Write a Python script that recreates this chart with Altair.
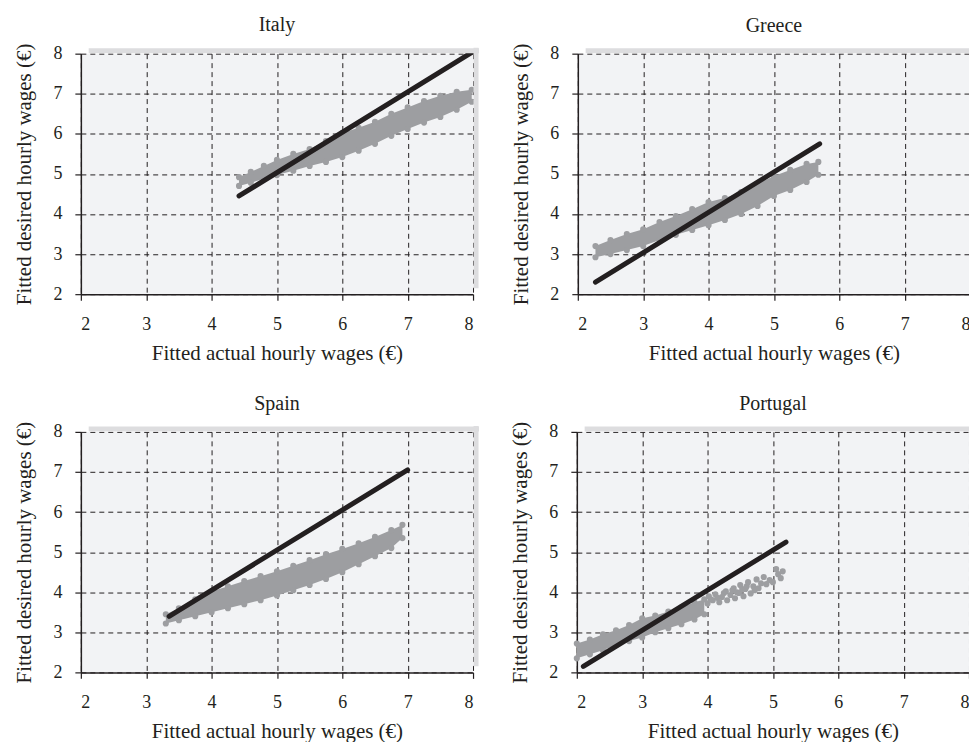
import altair as alt
import pandas as pd

countries = ["Italy", "Greece", "Spain", "Portugal"]

# Band of fitted points (x, lower edge, upper edge)
italy_x = [4.42, 4.6, 4.8, 5.0, 5.25, 5.5, 5.75, 6.0, 6.25, 6.5, 6.75, 7.0, 7.25, 7.5, 7.75, 7.98]
italy_lo = [4.70, 4.78, 4.88, 4.97, 5.08, 5.20, 5.30, 5.42, 5.58, 5.75, 5.95, 6.12, 6.28, 6.42, 6.60, 6.80]
italy_hi = [4.92, 5.05, 5.20, 5.35, 5.50, 5.62, 5.82, 6.02, 6.15, 6.30, 6.50, 6.66, 6.82, 6.95, 7.05, 7.10]

greece_x = [2.27, 2.5, 2.75, 3.0, 3.25, 3.5, 3.75, 4.0, 4.25, 4.5, 4.75, 5.0, 5.25, 5.5, 5.68]
greece_lo = [2.92, 3.00, 3.10, 3.20, 3.35, 3.48, 3.60, 3.72, 3.85, 4.00, 4.20, 4.45, 4.60, 4.80, 4.98]
greece_hi = [3.20, 3.35, 3.50, 3.62, 3.80, 3.95, 4.12, 4.30, 4.40, 4.55, 4.75, 4.95, 5.10, 5.25, 5.30]

spain_x = [3.3, 3.5, 3.75, 4.0, 4.25, 4.5, 4.75, 5.0, 5.25, 5.5, 5.75, 6.0, 6.25, 6.5, 6.75, 6.92]
spain_lo = [3.22, 3.30, 3.40, 3.50, 3.60, 3.70, 3.80, 3.92, 4.05, 4.18, 4.33, 4.50, 4.70, 4.90, 5.10, 5.35]
spain_hi = [3.45, 3.60, 3.82, 4.02, 4.15, 4.28, 4.40, 4.52, 4.66, 4.80, 4.95, 5.08, 5.22, 5.38, 5.55, 5.68]

portugal_x = [2.0, 2.2, 2.4, 2.6, 2.8, 3.0, 3.2, 3.4, 3.6, 3.8, 3.95]
portugal_lo = [2.35, 2.45, 2.55, 2.68, 2.78, 2.87, 3.00, 3.10, 3.20, 3.32, 3.45]
portugal_hi = [2.72, 2.82, 2.95, 3.05, 3.18, 3.35, 3.42, 3.52, 3.62, 3.75, 3.82]

# Sparse tail of Portugal's points
portugal_tail_x = [4.0, 4.02, 4.05, 4.08, 4.12, 4.15, 4.18, 4.22, 4.25, 4.28, 4.3, 4.35, 4.38, 4.4, 4.42,
                   4.45, 4.48, 4.5, 4.53, 4.55, 4.58, 4.6, 4.62, 4.66, 4.7, 4.72, 4.75, 4.78, 4.82, 4.86,
                   4.9, 4.95, 5.0, 5.05, 5.08, 5.12, 5.15]
portugal_tail_y = [3.72, 3.9, 3.82, 3.8, 3.95, 3.86, 3.75, 3.88, 3.98, 4.02, 3.8, 3.93, 4.05, 4.1, 3.85,
                   4.0, 3.98, 4.18, 4.08, 3.9, 4.08, 4.15, 4.25, 3.97, 4.15, 4.05, 4.32, 4.1, 4.22, 4.38,
                   4.2, 4.3, 4.25, 4.58, 4.45, 4.35, 4.52]

# 45-degree line endpoints
line_x = {"Italy": [4.42, 8.0], "Greece": [2.27, 5.7], "Spain": [3.35, 7.0], "Portugal": [2.1, 5.2]}
line_y = {"Italy": [4.45, 8.05], "Greece": [2.3, 5.75], "Spain": [3.4, 7.05], "Portugal": [2.15, 5.25]}

bands = {
    "Italy": (italy_x, italy_lo, italy_hi),
    "Greece": (greece_x, greece_lo, greece_hi),
    "Spain": (spain_x, spain_lo, spain_hi),
    "Portugal": (portugal_x, portugal_lo, portugal_hi),
}

ticks = [2, 3, 4, 5, 6, 7, 8]
GRAY = "#9d9ea1"
SHADOW = "#dddddf"
FONT = "Liberation Serif"

xscale = alt.Scale(domain=[2, 8], nice=False, zero=False)
yscale = alt.Scale(domain=[2, 8], nice=False, zero=False)
one = pd.DataFrame({"k": [0]})


def panel(name):
    bx, blo, bhi = bands[name]
    band_df = pd.DataFrame({"x": bx, "lo": blo, "hi": bhi})
    pts_x = list(bx) + list(bx)
    pts_y = list(blo) + list(bhi)
    if name == "Portugal":
        pts_x += portugal_tail_x
        pts_y += portugal_tail_y
    pts_df = pd.DataFrame({"x": pts_x, "y": pts_y})
    line_df = pd.DataFrame({"x": line_x[name], "y": line_y[name]})

    xax = alt.Axis(values=ticks, title="Fitted actual hourly wages (€)", format="d")
    yax = alt.Axis(values=ticks, title="Fitted desired hourly wages (€)", format="d")

    area = alt.Chart(band_df).mark_area(color=GRAY, opacity=1).encode(
        x=alt.X("x:Q", scale=xscale, axis=xax),
        y=alt.Y("lo:Q", scale=yscale, axis=yax),
        y2="hi:Q",
    )
    pts = alt.Chart(pts_df).mark_circle(color=GRAY, opacity=1, size=38).encode(
        x=alt.X("x:Q", scale=xscale, axis=xax),
        y=alt.Y("y:Q", scale=yscale, axis=yax),
    )
    line = alt.Chart(line_df).mark_line(color="#231f20", strokeWidth=5, strokeCap="round").encode(
        x=alt.X("x:Q", scale=xscale, axis=xax),
        y=alt.Y("y:Q", scale=yscale, axis=yax),
    )
    shadow_top = alt.Chart(one).mark_rule(color=SHADOW, strokeWidth=5, yOffset=-3, x2Offset=6).encode(
        x=alt.X(datum=2.12, type="quantitative", scale=xscale, axis=xax),
        x2=alt.X2(datum=8),
        y=alt.Y(datum=8, type="quantitative", scale=yscale, axis=yax),
    )
    shadow_right = alt.Chart(one).mark_rule(color=SHADOW, strokeWidth=5, xOffset=3, y2Offset=-6).encode(
        y=alt.Y(datum=2.15, type="quantitative", scale=yscale, axis=yax),
        y2=alt.Y2(datum=8),
        x=alt.X(datum=8, type="quantitative", scale=xscale, axis=xax),
    )
    return alt.layer(area, pts, line, shadow_top, shadow_right).properties(
        width=393, height=241,
        title=alt.TitleParams(name, fontSize=20, font=FONT, fontWeight="normal", color="#231f20", offset=7),
    )


top = alt.hconcat(panel("Italy"), panel("Greece"), spacing=27)
bottom = alt.hconcat(panel("Spain"), panel("Portugal"), spacing=27)
chart = alt.vconcat(top, bottom, spacing=31).properties(
    padding={"left": 5, "top": 5, "right": -10, "bottom": 0}
).configure_view(
    fill="#f2f3f5", stroke=None
).configure_axis(
    labelFont=FONT, titleFont=FONT, labelFontSize=18, titleFontSize=21, titleFontWeight="normal",
    labelColor="#231f20", titleColor="#231f20",
    domainColor="#231f20", domainWidth=1.5, tickColor="#231f20", tickSize=6, tickWidth=1.2,
    grid=True, gridColor="#231f20", gridDash=[5, 4], gridWidth=1, gridOpacity=1,
).configure_axisX(
    labelPadding=15, titlePadding=9
).configure_axisY(
    labelPadding=13, titlePadding=18
)

chart.save("out.html", embed_options={"renderer": "svg", "actions": False})
